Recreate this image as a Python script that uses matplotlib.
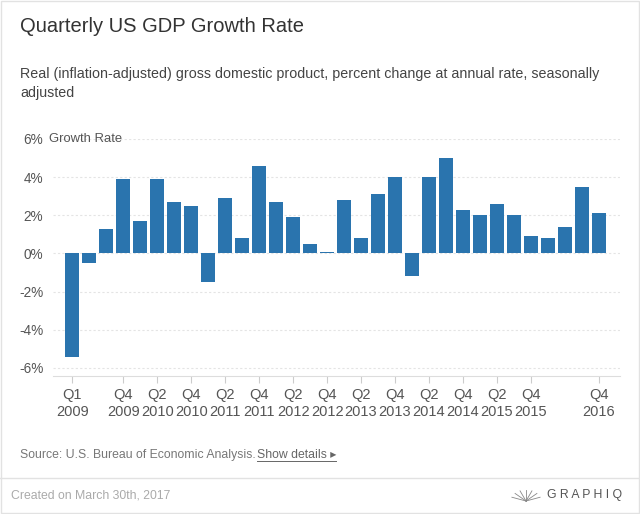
import numpy as np
import matplotlib.pyplot as plt
from matplotlib.patches import Rectangle
from matplotlib.lines import Line2D

plt.rcParams['font.family'] = ['Liberation Sans', 'DejaVu Sans']

# Quarterly real GDP growth, Q1 2009 .. Q4 2016
quarters = [f"Q{q} {y}" for y in range(2009, 2017) for q in range(1, 5)]
growth = [-5.4, -0.5, 1.3, 3.9,
          1.7, 3.9, 2.7, 2.5,
          -1.5, 2.9, 0.8, 4.6,
          2.7, 1.9, 0.5, 0.1,
          2.8, 0.8, 3.1, 4.0,
          -1.2, 4.0, 5.0, 2.3,
          2.0, 2.6, 2.0, 0.9,
          0.8, 1.4, 3.5, 2.1]
tick_idx = [0, 3, 5, 7, 9, 11, 13, 15, 17, 19, 21, 23, 25, 27, 31]
y_ticks = [-6, -4, -2, 0, 2, 4, 6]

fig = plt.figure(figsize=(6.4, 5.14), dpi=100)
fig.patch.set_facecolor('white')

# card border and footer separator
fig.add_artist(Rectangle((0.002, 0.002), 0.996, 0.996, transform=fig.transFigure,
                         fill=False, edgecolor='#e2e2e2', linewidth=1))
fig.add_artist(Line2D([0, 1], [1 - 478 / 514] * 2, transform=fig.transFigure,
                      color='#e2e2e2', linewidth=1))

ax = fig.add_axes([53 / 640, 1 - 376 / 514, (620 - 53) / 640, (376 - 139) / 514])
x = np.arange(len(growth))
ax.bar(x, growth, width=0.82, color='#2a74ae', zorder=3)

ax.set_xlim(-1.14, 32.25)
ax.set_ylim(-6.42, 6)
ax.set_yticks(y_ticks)
ax.set_yticklabels([f"{v}%" for v in y_ticks])
for v in y_ticks:
    ax.axhline(v, color='#e4e4e4', linewidth=0.8, linestyle=(0, (2, 2)), zorder=1)

ax.set_xticks(tick_idx)
ax.set_xticklabels([quarters[i].replace(' ', '\n') for i in tick_idx],
                   linespacing=1.25)
ax.tick_params(axis='x', length=5, color='#cccccc', labelsize=10.5,
               labelcolor='#555555', pad=4)
ax.tick_params(axis='y', length=0, labelsize=9.8, labelcolor='#555555', pad=7)

for s in ['top', 'right', 'left']:
    ax.spines[s].set_visible(False)
ax.spines['bottom'].set_color('#dddddd')

fig.text(49 / 640, 1 - 139 / 514, 'Growth Rate', fontsize=9.4,
         color='#555555', va='center', ha='left')

# titles
fig.text(20 / 640, 1 - 27 / 514, 'Quarterly US GDP Growth Rate', fontsize=14.5,
         color='#333333', va='center')
fig.text(20 / 640, 1 - 74 / 514,
         'Real (inflation-adjusted) gross domestic product, percent change at annual rate, seasonally',
         fontsize=10.3, color='#444444', va='center')
fig.text(20 / 640, 1 - 93 / 514, 'adjusted', fontsize=10.3, color='#444444', va='center')

# source line
fig.text(20 / 640, 1 - 455 / 514, 'Source: U.S. Bureau of Economic Analysis.',
         fontsize=8.8, color='#777777', va='center')
fig.text(257 / 640, 1 - 455 / 514, 'Show details \u25b8', fontsize=8.8,
         color='#666666', va='center')
fig.add_artist(Line2D([257 / 640, 336 / 640], [1 - 461 / 514] * 2,
                      transform=fig.transFigure, color='#666666', linewidth=0.7))

# footer
fig.text(11 / 640, 1 - 496 / 514, 'Created on March 30th, 2017', fontsize=8.8,
         color='#aaaaaa', va='center')
fig.text(547 / 640, 1 - 495 / 514, 'G R A P H I Q', fontsize=8.8,
         color='#555555', va='center')
# small fan-shaped logo
cx, cy = 526, 501
for ang in np.linspace(20, 160, 7):
    r = np.radians(ang)
    fig.add_artist(Line2D([cx / 640, (cx + 15 * np.cos(r)) / 640],
                          [1 - cy / 514, 1 - (cy - 11 * np.sin(r)) / 514],
                          transform=fig.transFigure, color='#888888', linewidth=0.6))

fig.savefig('out.png', dpi=100)
